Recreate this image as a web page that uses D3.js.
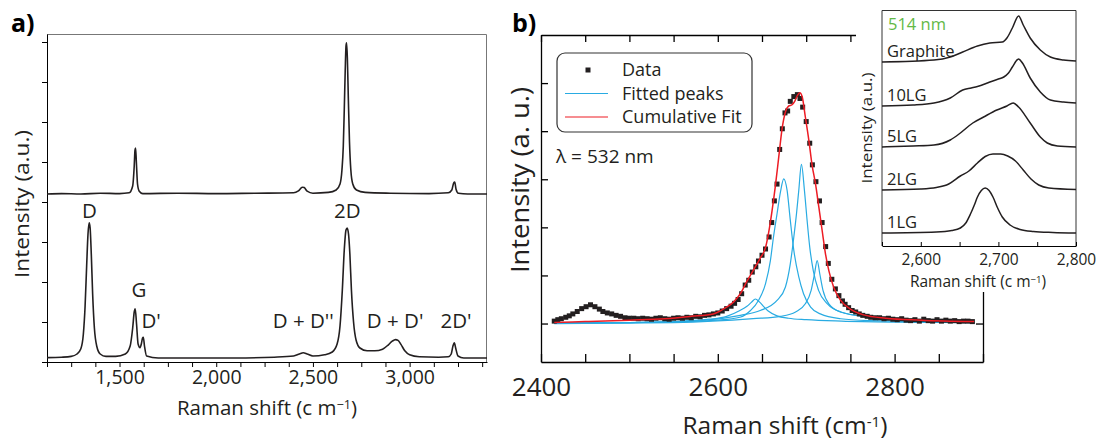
<!DOCTYPE html>
<html>
<head>
<meta charset="utf-8">
<script src="https://cdn.jsdelivr.net/npm/d3@7"></script>
<style>
  body { margin: 0; background: #fff; }
  svg { display: block; font-family: 'Open Sans', sans-serif; }
  .domain { stroke: #000; }
</style>
</head>
<body>
<svg id="fig" width="1096" height="444"></svg>
<script>
//------------------------------- DATA ---------------------------------------//

// panel a: two spectra, [Raman shift, intensity]
const spectrumTop = [
  [1125,4.2],[1200,4.21],[1300,4.2],[1400,4.22],[1500,4.21],[1550,4.23],[1568,4.4],[1576,4.9],[1580,5.3],[1583,5.35],
  [1587,5.0],[1593,4.45],[1602,4.27],[1620,4.21],[1800,4.22],[2000,4.21],[2200,4.22],[2400,4.23],[2425,4.28],[2445,4.37],
  [2455,4.36],[2470,4.27],[2500,4.22],[2580,4.24],[2620,4.3],[2640,4.45],[2650,4.8],[2657,5.4],[2662,6.3],[2667,7.3],
  [2671,7.9],[2674,7.98],[2678,7.6],[2683,6.6],[2689,5.5],[2696,4.8],[2706,4.45],[2725,4.3],[2770,4.24],[2900,4.22],
  [3100,4.21],[3200,4.23],[3218,4.3],[3228,4.48],[3233,4.5],[3240,4.32],[3252,4.22],[3300,4.2],[3400,4.2]
];
const spectrumBottom = [
  [1125,0.11],[1200,0.12],[1250,0.14],[1280,0.2],[1300,0.33],[1313,0.7],[1322,1.4],[1330,2.4],[1337,3.2],[1343,3.48],
  [1348,3.35],[1354,2.7],[1361,1.7],[1370,0.85],[1383,0.38],[1400,0.2],[1430,0.14],[1480,0.14],[1530,0.2],[1555,0.4],
  [1568,0.85],[1576,1.25],[1581,1.33],[1588,0.95],[1596,0.45],[1606,0.36],[1614,0.48],[1619,0.6],[1623,0.62],[1629,0.4],
  [1640,0.15],[1700,0.1],[1900,0.1],[2100,0.1],[2300,0.12],[2400,0.15],[2430,0.2],[2450,0.23],[2470,0.2],[2500,0.15],
  [2560,0.18],[2600,0.25],[2625,0.45],[2640,0.9],[2652,1.8],[2662,2.8],[2671,3.3],[2677,3.35],[2684,3.2],[2691,2.7],
  [2699,1.8],[2710,1.0],[2723,0.55],[2743,0.35],[2780,0.28],[2820,0.28],[2860,0.32],[2890,0.43],[2910,0.52],[2927,0.56],
  [2940,0.54],[2955,0.44],[2975,0.28],[3000,0.18],[3050,0.13],[3150,0.12],[3200,0.13],[3215,0.2],[3224,0.4],[3231,0.48],
  [3238,0.35],[3250,0.15],[3280,0.1],[3400,0.1]
];
const peakNames = ['D', 'G', "D'", "D + D''", '2D', "D + D'", "2D'"];

// panel b: measured points, fitted Lorentzian peaks, cumulative fit
const dataB = [
  [2415,0.05],[2419,0.08],[2423,0.10],[2428,0.13],[2432,0.16],[2436,0.20],[2441,0.25],[2446,0.31],[2451,0.35],[2456,0.39],
  [2461,0.35],[2466,0.30],[2470,0.25],[2475,0.22],[2480,0.20],[2485,0.17],[2490,0.15],[2495,0.12],[2500,0.11],[2505,0.11],
  [2510,0.10],[2515,0.11],[2520,0.10],[2525,0.09],[2530,0.11],[2535,0.12],[2540,0.10],[2545,0.09],[2550,0.11],[2555,0.12],
  [2560,0.11],[2565,0.13],[2570,0.12],[2575,0.15],[2580,0.14],[2585,0.17],[2590,0.18],[2595,0.20],[2600,0.22],[2605,0.26],
  [2610,0.31],[2615,0.36],[2619,0.42],[2623,0.50],[2627,0.62],[2631,0.80],[2635,0.90],[2639,1.07],[2643,1.18],[2646,1.30],
  [2650,1.42],[2654,1.55],[2658,1.80],[2661,2.10],[2664,2.55],[2667,2.90],[2670,3.62],[2673,4.05],[2676,4.38],[2679,4.42],
  [2682,4.62],[2686,4.72],[2690,4.76],[2693,4.68],[2696,4.50],[2700,4.20],[2704,3.75],[2707,3.30],[2711,2.95],[2715,2.55],
  [2718,2.10],[2722,1.60],[2725,1.25],[2729,0.92],[2733,0.72],[2737,0.58],[2741,0.47],[2744,0.40],[2748,0.33],[2752,0.27],
  [2756,0.24],[2760,0.20],[2764,0.17],[2769,0.15],[2773,0.13],[2778,0.12],[2783,0.12],[2788,0.10],[2793,0.11],[2798,0.09],
  [2803,0.08],[2808,0.10],[2813,0.07],[2818,0.06],[2823,0.08],[2828,0.05],[2833,0.09],[2838,0.06],[2843,0.05],[2848,0.08],
  [2853,0.05],[2858,0.07],[2863,0.05],[2868,0.06],[2873,0.04],[2878,0.05],[2883,0.05],[2888,0.04]
];
const fitPeak1 = [[2415,0.01],[2500,0.02],[2560,0.05],[2590,0.09],[2610,0.15],[2625,0.27],[2633,0.36],[2638,0.44],[2642.5,0.51],
  [2647,0.45],[2652,0.35],[2657,0.26],[2667,0.16],[2680,0.11],[2700,0.08],[2740,0.05],[2800,0.03],[2890,0.02]];
const fitPeak2 = [[2415,0.01],[2500,0.02],[2560,0.04],[2600,0.07],[2625,0.13],[2637,0.27],[2646,0.48],[2654,0.83],[2659.5,1.31],
  [2663,1.80],[2667,2.28],[2671,2.75],[2674.6,3.01],[2678.4,2.77],[2682,2.15],[2686,1.52],[2691.6,0.97],[2697,0.62],[2705,0.34],
  [2716,0.20],[2739,0.10],[2773,0.06],[2890,0.02]];
const fitPeak3 = [[2415,0.01],[2500,0.02],[2580,0.06],[2625.5,0.17],[2648,0.27],[2667,0.48],[2676.5,0.76],[2682,1.24],[2686,1.80],
  [2689,2.28],[2691.6,2.77],[2694.6,3.31],[2698,2.77],[2701,2.15],[2704,1.59],[2708,1.10],[2714,0.69],[2724,0.41],[2739,0.24],
  [2773,0.13],[2820,0.06],[2890,0.03]];
const fitPeak4 = [[2415,0.0],[2550,0.02],[2640,0.10],[2671,0.15],[2688,0.24],[2699,0.41],[2705.6,0.69],[2709.4,1.03],[2712.4,1.31],
  [2715.4,1.03],[2719,0.69],[2725.6,0.41],[2739,0.24],[2773,0.13],[2820,0.06],[2890,0.03]];
const cumulativeFit = [[2415,0.02],[2450,0.04],[2500,0.07],[2540,0.10],[2570,0.15],[2595,0.20],[2608,0.32],[2618,0.45],[2625.5,0.62],
  [2633,0.88],[2640.6,1.12],[2648,1.36],[2654,1.58],[2657.6,1.90],[2661.4,2.35],[2665,2.84],[2669,3.47],[2672.7,4.05],[2676.5,4.40],
  [2680,4.52],[2684,4.55],[2687,4.62],[2690,4.74],[2692.7,4.80],[2695.4,4.72],[2699,4.30],[2703,3.81],[2706.7,3.29],[2710.5,2.91],
  [2714.3,2.42],[2718,1.94],[2721.8,1.45],[2725.6,1.10],[2731,0.76],[2739,0.48],[2750,0.30],[2765,0.18],[2790,0.11],[2830,0.07],[2890,0.04]];

// inset: 2D band vs number of layers (514 nm), stacked
const insetNames = ['Graphite', '10LG', '5LG', '2LG', '1LG'];
const insetGraphite = [[2550,18.4],[2617,18.6],[2638,18.9],[2654,19.4],[2673,20.0],[2689,20.3],[2705,20.4],[2711,20.8],[2718,21.8],
  [2726,23.0],[2732,22.1],[2741,20.8],[2754,19.6],[2767,18.9],[2784,18.6],[2800,18.5]];
const inset10LG = [[2550,14.0],[2590,14.1],[2617,14.3],[2638,14.8],[2654,15.6],[2665,15.8],[2673,15.95],[2689,16.4],[2700,16.7],
  [2707,16.9],[2713,17.3],[2718,17.9],[2726,18.7],[2731,18.3],[2741,16.8],[2754,15.4],[2767,14.6],[2784,14.4],[2800,14.3]];
const inset5LG = [[2550,9.9],[2590,10.0],[2617,10.1],[2638,10.6],[2651,11.3],[2667,12.3],[2681,12.9],[2698,13.6],[2711,14.0],
  [2719,14.3],[2726,13.9],[2741,12.3],[2754,10.9],[2763,10.3],[2776,10.0],[2800,9.9]];
const inset2LG = [[2550,5.6],[2600,5.7],[2620,5.85],[2636,6.2],[2651,7.0],[2662,7.5],[2673,8.3],[2683,8.95],[2693,9.2],
  [2703,9.2],[2712,9.0],[2722,8.5],[2732,7.6],[2742,6.7],[2752,6.1],[2765,5.8],[2800,5.65]];
const inset1LG = [[2550,1.3],[2620,1.4],[2640,1.55],[2651,1.8],[2658,2.3],[2664,3.2],[2669,4.1],[2673,4.9],[2678,5.55],[2683,5.8],
  [2688,5.55],[2693,4.9],[2699,3.8],[2705,2.9],[2715,2.1],[2728,1.65],[2745,1.45],[2770,1.35],[2800,1.3]];

//------------------------------- SETUP ---------------------------------------//

const svg = d3.select('#fig')

const blue = '#29abe2', red = '#ed1c24', ink = '#231f20'

function superLabel(sel, main, sup, tail) {
    sel.append('tspan').text(main)
    sel.append('tspan').attr('baseline-shift', '45%').attr('font-size', '0.62em').text(sup)
    sel.append('tspan').text(tail)
}

//------------------------------- PANEL A ---------------------------------------//

const xA = d3.scaleLinear().domain([1125, 3400]).range([47, 487])
const yA = d3.scaleLinear().domain([0, 8.2]).range([362, 34])

const panelA = svg.append('g')

// gray top and right frame
panelA.append('path')
    .attr('d', `M${xA.range()[0]},34.5H486.5V362`)
    .attr('fill', 'none')
    .attr('stroke', '#777')
    .attr('stroke-width', 1)

panelA.append('g')
    .attr('transform', 'translate(0,362)')
    .call(d3.axisBottom(xA)
        .tickValues(d3.range(1125, 3400, 125))
        .tickSizeInner(5).tickSizeOuter(0).tickPadding(3)
        .tickFormat(d => d % 500 === 0 ? d3.format(',')(d) : ''))
    .call(g => g.selectAll('text').attr('font-size', 19.5).attr('font-family', 'Open Sans').attr('fill', ink))

panelA.append('g')
    .attr('transform', 'translate(47,0)')
    .call(d3.axisLeft(yA).tickValues(d3.range(0, 9)).tickSizeInner(5).tickSizeOuter(0).tickFormat(''))

const lineA = d3.line()
    .x(d => xA(d[0]))
    .y(d => yA(d[1]))
    .curve(d3.curveMonotoneX)

panelA.selectAll('path.spec')
    .data([spectrumTop, spectrumBottom])
    .enter()
    .append('path')
    .attr('class', 'spec')
    .attr('d', lineA)
    .attr('fill', 'none')
    .attr('stroke', ink)
    .attr('stroke-width', 1.6)

// peak names, anchored at [shift, intensity]
const peakAnchors = [[1345, 3.6, 'middle'], [1600, 1.62, 'middle'], [1613, 0.85, 'start'], [2450, 0.85, 'middle'],
    [2678, 3.6, 'middle'], [2925, 0.85, 'middle'], [3240, 0.85, 'middle']]
panelA.selectAll('text.peak')
    .data(peakNames)
    .enter()
    .append('text')
    .attr('class', 'peak')
    .attr('x', (d, i) => xA(peakAnchors[i][0]))
    .attr('y', (d, i) => yA(peakAnchors[i][1]))
    .attr('text-anchor', (d, i) => peakAnchors[i][2])
    .attr('font-size', 20.5)
    .attr('fill', ink)
    .text(d => d)

panelA.append('text')
    .attr('transform', 'translate(29,204) rotate(-90)')
    .attr('text-anchor', 'middle')
    .attr('font-size', 20)
    .attr('textLength', 148).attr('lengthAdjust', 'spacingAndGlyphs')
    .attr('fill', ink)
    .text('Intensity (a.u.)')

panelA.append('text')
    .attr('x', 267).attr('y', 415)
    .attr('text-anchor', 'middle')
    .attr('font-size', 20.5)
    .attr('fill', ink)
    .call(superLabel, 'Raman shift (c m', '\u22121', ')')

svg.append('text')
    .attr('x', 11).attr('y', 32)
    .attr('font-size', 25).attr('font-weight', 'bold')
    .text('a)')

//------------------------------- PANEL B ---------------------------------------//

const xB = d3.scaleLinear().domain([2400, 2900]).range([541, 983])
const yB = d3.scaleLinear().domain([-0.8, 6]).range([362, 35])
const ticksB = d3.range(2400, 2901, 50)

const panelB = svg.append('g')

panelB.append('g')
    .attr('transform', 'translate(0,362)')
    .call(d3.axisBottom(xB).tickValues(ticksB)
        .tickSizeInner(-8).tickSizeOuter(0).tickPadding(16)
        .tickFormat(d => d % 200 === 0 ? d : ''))
    .call(g => g.selectAll('text').attr('font-size', 26).attr('font-family', 'Open Sans').attr('fill', ink))

panelB.append('g')
    .attr('transform', 'translate(0,35)')
    .call(d3.axisTop(xB).tickValues(ticksB).tickSizeInner(-7).tickSizeOuter(0).tickFormat(''))

panelB.append('g')
    .attr('transform', 'translate(541,0)')
    .call(d3.axisLeft(yB).tickValues(d3.range(0, 6)).tickSizeInner(-7).tickSizeOuter(0).tickFormat(''))

panelB.append('g')
    .attr('transform', 'translate(983,0)')
    .call(d3.axisRight(yB).tickValues(d3.range(0, 6)).tickSizeInner(-7).tickSizeOuter(0).tickFormat(''))

panelB.selectAll('.domain, .tick line').attr('stroke-width', 1.3)

const lineB = d3.line()
    .x(d => xB(d[0]))
    .y(d => yB(d[1]))
    .curve(d3.curveMonotoneX)

//fitted peaks
panelB.selectAll('path.fit')
    .data([fitPeak1, fitPeak2, fitPeak3, fitPeak4])
    .enter()
    .append('path')
    .attr('class', 'fit')
    .attr('d', lineB)
    .attr('fill', 'none')
    .attr('stroke', blue)
    .attr('stroke-width', 1.2)

//data squares
panelB.selectAll('rect.pt')
    .data(dataB)
    .enter()
    .append('rect')
    .attr('class', 'pt')
    .attr('x', d => xB(d[0]) - 2.5)
    .attr('y', d => yB(d[1]) - 2.5)
    .attr('width', 5)
    .attr('height', 5)
    .attr('fill', ink)

//cumulative fit
panelB.append('path')
    .datum(cumulativeFit)
    .attr('d', lineB)
    .attr('fill', 'none')
    .attr('stroke', red)
    .attr('stroke-width', 1.5)

//legend
const legend = panelB.append('g').attr('transform', 'translate(557,53)')
legend.append('rect')
    .attr('width', 195).attr('height', 79).attr('rx', 8)
    .attr('fill', 'white').attr('stroke', '#333').attr('stroke-width', 1.2)

const legendItems = ['Data', 'Fitted peaks', 'Cumulative Fit']
const legendRow = legend.selectAll('g.row')
    .data(legendItems)
    .enter()
    .append('g')
    .attr('class', 'row')
    .attr('transform', (d, i) => `translate(0,${17 + i * 23.5})`)

legendRow.append('text')
    .attr('x', 65).attr('y', 6)
    .attr('font-size', 18)
    .attr('fill', ink)
    .text(d => d)

legendRow.filter((d, i) => i === 0).append('rect')
    .attr('x', 28.5).attr('y', -2.5).attr('width', 5).attr('height', 5).attr('fill', ink)

legendRow.filter((d, i) => i > 0).append('line')
    .attr('x1', 8).attr('x2', 51)
    .attr('stroke', (d, i) => i === 0 ? blue : red)
    .attr('stroke-width', 1.2)

panelB.append('text')
    .attr('x', 556).attr('y', 163)
    .attr('font-size', 19)
    .attr('fill', ink)
    .text('\u03bb = 532 nm')

panelB.append('text')
    .attr('transform', 'translate(529,180) rotate(-90)')
    .attr('text-anchor', 'middle')
    .attr('font-size', 26)
    .attr('textLength', 186).attr('lengthAdjust', 'spacingAndGlyphs')
    .attr('fill', ink)
    .text('Intensity (a. u.)')

panelB.append('text')
    .attr('x', 785).attr('y', 434)
    .attr('text-anchor', 'middle')
    .attr('font-size', 24.5)
    .attr('fill', ink)
    .call(superLabel, 'Raman shift (cm', '-1', ')')

svg.append('text')
    .attr('x', 512).attr('y', 32)
    .attr('font-size', 25).attr('font-weight', 'bold')
    .text('b)')

//------------------------------- INSET ---------------------------------------//

const xI = d3.scaleLinear().domain([2550, 2800]).range([882, 1076])
const yI = d3.scaleLinear().domain([0, 23.6]).range([246, 10])

const inset = svg.append('g')

inset.append('rect')
    .attr('x', 856).attr('y', 0)
    .attr('width', 240).attr('height', 292)
    .attr('fill', 'white')

inset.append('path')
    .attr('d', 'M882,246V10.5H1076V246')
    .attr('fill', 'none')
    .attr('stroke', '#333')
    .attr('stroke-width', 1)

inset.append('g')
    .attr('transform', 'translate(0,246)')
    .call(d3.axisBottom(xI).tickValues(d3.range(2550, 2801, 50))
        .tickSizeInner(-4).tickSizeOuter(0).tickPadding(8)
        .tickFormat(d => d % 100 === 0 ? d3.format(',')(d) : ''))
    .call(g => g.selectAll('text').attr('font-size', 15.5).attr('font-family', 'Open Sans').attr('fill', ink))

const lineI = d3.line()
    .x(d => xI(d[0]))
    .y(d => yI(d[1]))
    .curve(d3.curveMonotoneX)

const insetSpectra = [insetGraphite, inset10LG, inset5LG, inset2LG, inset1LG]
inset.selectAll('path.layer')
    .data(insetSpectra)
    .enter()
    .append('path')
    .attr('class', 'layer')
    .attr('d', lineI)
    .attr('fill', 'none')
    .attr('stroke', ink)
    .attr('stroke-width', 1.5)

// layer names sit just above each trace's left baseline
inset.selectAll('text.layer')
    .data(insetNames)
    .enter()
    .append('text')
    .attr('class', 'layer')
    .attr('x', 887)
    .attr('y', (d, i) => yI(insetSpectra[i][0][1]) - 5)
    .attr('font-size', 16.5)
    .attr('fill', ink)
    .text(d => d)

inset.append('text')
    .attr('x', 888).attr('y', 30)
    .attr('font-size', 16.5)
    .attr('fill', '#62b946')
    .text('514 nm')

inset.append('text')
    .attr('transform', 'translate(872,128) rotate(-90)')
    .attr('text-anchor', 'middle')
    .attr('font-size', 15)
    .attr('textLength', 111).attr('lengthAdjust', 'spacingAndGlyphs')
    .attr('fill', ink)
    .text('Intensity (a.u.)')

inset.append('text')
    .attr('x', 978).attr('y', 287)
    .attr('text-anchor', 'middle')
    .attr('font-size', 15.5)
    .attr('fill', ink)
    .call(superLabel, 'Raman shift (c m', '\u22121', ')')
</script>
</body>
</html>
